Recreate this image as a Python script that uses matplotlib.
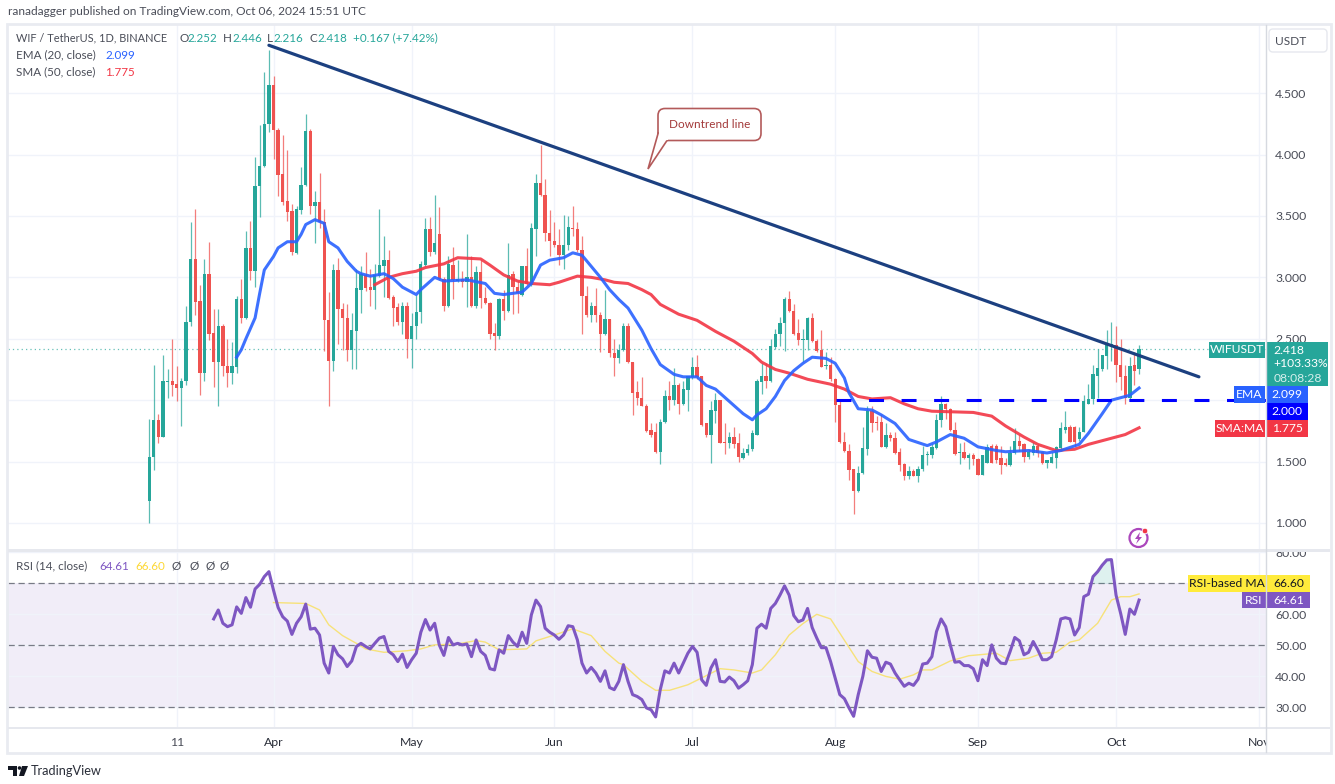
"""WIF / USDT daily chart with EMA, SMA, trend line and RSI pane"""
from typing import List
import matplotlib
matplotlib.use('Agg')
import matplotlib.pyplot as plt
from matplotlib.patches import Circle, FancyBboxPatch, Polygon, Rectangle


# Days are counted from 1 April 2024
FIRST_DAY = -27

# open, high, low, close of every daily candle
CANDLES = [
    (1.18, 1.85, 1.00, 1.54), (1.54, 2.29, 1.43, 1.84), (1.84, 1.89, 1.65, 1.70), (1.70, 2.37, 1.70, 2.16),
    (2.15, 2.25, 2.02, 2.16), (2.16, 2.50, 2.03, 2.12), (2.13, 2.28, 1.99, 2.10), (2.10, 2.18, 1.79, 2.16),
    (2.16, 2.77, 2.12, 2.64), (2.64, 3.45, 2.60, 3.15), (3.15, 3.56, 2.69, 2.80), (2.81, 2.94, 2.04, 2.22),
    (2.22, 3.15, 2.16, 3.03), (3.03, 3.29, 2.49, 2.54), (2.55, 2.74, 2.11, 2.31), (2.31, 2.74, 1.95, 2.60),
    (2.60, 2.62, 2.20, 2.28), (2.28, 2.50, 2.11, 2.22), (2.22, 2.47, 2.13, 2.28), (2.27, 2.85, 2.22, 2.82),
    (2.82, 2.99, 2.63, 2.67), (2.67, 3.38, 2.66, 3.24), (3.24, 3.46, 2.98, 3.05), (3.05, 3.98, 2.92, 3.74),
    (3.74, 4.24, 3.49, 3.91), (3.91, 4.67, 3.90, 4.25), (4.25, 4.85, 4.18, 4.57), (4.57, 4.64, 3.96, 4.20),
    (4.20, 4.22, 3.66, 3.83), (3.84, 4.16, 3.59, 3.61), (3.62, 4.04, 3.46, 3.53), (3.54, 3.60, 3.18, 3.21),
    (3.20, 3.58, 3.19, 3.56), (3.55, 3.90, 3.52, 3.75), (3.75, 4.33, 3.74, 4.19), (4.19, 4.21, 3.52, 3.58),
    (3.58, 3.70, 3.28, 3.61), (3.61, 3.85, 3.40, 3.45), (3.45, 3.56, 2.40, 2.65), (2.65, 2.88, 1.95, 2.32),
    (2.32, 3.11, 2.24, 3.06), (3.06, 3.16, 2.46, 2.74), (2.74, 2.79, 2.41, 2.67), (2.67, 2.78, 2.32, 2.41),
    (2.41, 2.71, 2.25, 2.57), (2.56, 3.07, 2.25, 2.91), (2.90, 3.09, 2.71, 3.03), (3.02, 3.21, 2.89, 2.91),
    (2.92, 3.07, 2.77, 2.90), (2.90, 3.11, 2.74, 3.02), (3.01, 3.56, 3.00, 3.10), (3.09, 3.34, 2.84, 3.14),
    (3.14, 3.22, 2.82, 2.83), (2.84, 2.86, 2.60, 2.75), (2.76, 2.79, 2.61, 2.64), (2.64, 2.80, 2.54, 2.77),
    (2.77, 2.80, 2.34, 2.50), (2.50, 2.71, 2.26, 2.60), (2.60, 2.86, 2.50, 2.72), (2.72, 3.13, 2.63, 3.11),
    (3.10, 3.48, 3.09, 3.39), (3.39, 3.49, 3.17, 3.21), (3.21, 3.67, 3.19, 3.28), (3.35, 3.57, 2.98, 2.99),
    (2.99, 3.00, 2.73, 2.77), (2.77, 3.17, 2.76, 3.11), (3.10, 3.25, 2.82, 2.98), (2.97, 3.14, 2.96, 2.99),
    (2.99, 3.05, 2.92, 2.96), (2.96, 3.35, 2.76, 3.00), (3.00, 3.17, 2.76, 2.77), (2.77, 3.09, 2.75, 3.04),
    (3.04, 3.14, 2.75, 2.83), (2.83, 2.92, 2.78, 2.79), (2.79, 2.80, 2.50, 2.54), (2.55, 2.63, 2.41, 2.52),
    (2.52, 2.83, 2.50, 2.82), (2.82, 2.90, 2.65, 2.73), (2.73, 3.28, 2.72, 3.02), (3.03, 3.05, 2.70, 2.92),
    (2.92, 2.97, 2.71, 2.87), (2.86, 3.09, 2.85, 3.09), (3.09, 3.24, 2.94, 2.95), (2.94, 3.44, 2.93, 3.40),
    (3.39, 3.84, 3.17, 3.77), (3.77, 4.08, 3.66, 3.67), (3.67, 3.80, 3.30, 3.36), (3.36, 3.55, 3.17, 3.30),
    (3.30, 3.45, 3.25, 3.26), (3.26, 3.39, 3.10, 3.18), (3.18, 3.51, 3.07, 3.26), (3.26, 3.50, 3.22, 3.41),
    (3.40, 3.58, 3.34, 3.39), (3.39, 3.45, 3.21, 3.22), (3.22, 3.34, 2.54, 2.85), (2.85, 2.93, 2.68, 2.69),
    (2.69, 2.80, 2.64, 2.77), (2.77, 2.91, 2.64, 2.69), (2.69, 2.72, 2.39, 2.54), (2.54, 2.90, 2.53, 2.66),
    (2.66, 2.66, 2.35, 2.38), (2.38, 2.50, 2.20, 2.34), (2.34, 2.46, 2.30, 2.41), (2.41, 2.63, 2.40, 2.60),
    (2.60, 2.63, 2.30, 2.31), (2.31, 2.31, 1.88, 2.06), (2.07, 2.16, 1.96, 2.02), (2.02, 2.19, 1.95, 1.95),
    (1.95, 1.97, 1.74, 1.75), (1.76, 1.81, 1.70, 1.72), (1.74, 1.81, 1.57, 1.58), (1.58, 1.85, 1.48, 1.82),
    (1.82, 2.08, 1.81, 2.03), (2.03, 2.16, 1.92, 2.00), (2.00, 2.26, 1.96, 2.12), (2.12, 2.14, 1.89, 1.97),
    (1.97, 2.16, 1.96, 2.09), (2.08, 2.20, 1.91, 2.20), (2.19, 2.35, 2.17, 2.27), (2.27, 2.37, 2.17, 2.19),
    (2.20, 2.20, 1.79, 1.80), (1.81, 1.81, 1.70, 1.72), (1.72, 1.99, 1.49, 1.92), (1.91, 2.06, 1.81, 2.00),
    (2.00, 2.00, 1.65, 1.65), (1.66, 1.81, 1.56, 1.65), (1.65, 1.74, 1.61, 1.70), (1.70, 1.78, 1.61, 1.64),
    (1.65, 1.73, 1.50, 1.54), (1.53, 1.61, 1.52, 1.57), (1.57, 1.64, 1.55, 1.60), (1.60, 1.76, 1.59, 1.73),
    (1.72, 2.17, 1.72, 2.16), (2.15, 2.30, 2.05, 2.20), (2.20, 2.30, 2.10, 2.16), (2.16, 2.50, 2.15, 2.44),
    (2.43, 2.58, 2.42, 2.54), (2.54, 2.68, 2.44, 2.63), (2.63, 2.84, 2.40, 2.82), (2.82, 2.89, 2.72, 2.73),
    (2.73, 2.78, 2.53, 2.54), (2.55, 2.66, 2.45, 2.49), (2.49, 2.58, 2.31, 2.50), (2.49, 2.68, 2.41, 2.67),
    (2.67, 2.71, 2.47, 2.48), (2.48, 2.50, 2.39, 2.40), (2.41, 2.57, 2.27, 2.27), (2.28, 2.39, 2.25, 2.29),
    (2.29, 2.35, 2.16, 2.17), (2.17, 2.18, 1.82, 1.96), (1.96, 1.99, 1.65, 1.66), (1.66, 1.74, 1.58, 1.59),
    (1.59, 1.64, 1.35, 1.43), (1.44, 1.44, 1.07, 1.26), (1.26, 1.46, 1.25, 1.41), (1.41, 1.78, 1.40, 1.61),
    (1.60, 1.95, 1.55, 1.91), (1.91, 1.95, 1.74, 1.81), (1.82, 1.87, 1.76, 1.81), (1.82, 1.89, 1.62, 1.62),
    (1.62, 1.81, 1.61, 1.72), (1.72, 1.74, 1.67, 1.69), (1.69, 1.74, 1.56, 1.57), (1.58, 1.61, 1.42, 1.47),
    (1.48, 1.49, 1.35, 1.38), (1.38, 1.46, 1.36, 1.42), (1.42, 1.44, 1.38, 1.38), (1.38, 1.46, 1.33, 1.44),
    (1.44, 1.63, 1.42, 1.55), (1.55, 1.59, 1.47, 1.56), (1.55, 1.64, 1.53, 1.62), (1.61, 1.89, 1.60, 1.84),
    (1.84, 2.03, 1.78, 1.97), (1.97, 1.98, 1.85, 1.93), (1.93, 1.94, 1.75, 1.76), (1.76, 1.82, 1.55, 1.56),
    (1.57, 1.65, 1.48, 1.58), (1.58, 1.66, 1.52, 1.53), (1.53, 1.57, 1.44, 1.55), (1.55, 1.57, 1.47, 1.52),
    (1.52, 1.53, 1.39, 1.39), (1.39, 1.55, 1.39, 1.55), (1.49, 1.64, 1.49, 1.62), (1.63, 1.64, 1.49, 1.49),
    (1.63, 1.64, 1.49, 1.51), (1.53, 1.63, 1.40, 1.47), (1.49, 1.53, 1.46, 1.47), (1.47, 1.63, 1.46, 1.57),
    (1.57, 1.77, 1.56, 1.67), (1.67, 1.72, 1.59, 1.63), (1.64, 1.65, 1.50, 1.54), (1.54, 1.60, 1.52, 1.58),
    (1.57, 1.66, 1.55, 1.63), (1.63, 1.64, 1.54, 1.57), (1.58, 1.59, 1.48, 1.49), (1.49, 1.51, 1.45, 1.51),
    (1.49, 1.58, 1.49, 1.54), (1.53, 1.63, 1.45, 1.62), (1.61, 1.82, 1.59, 1.77), (1.76, 1.91, 1.73, 1.78),
    (1.78, 1.80, 1.66, 1.66), (1.78, 1.79, 1.62, 1.66), (1.68, 1.78, 1.67, 1.74), (1.74, 2.04, 1.74, 1.99),
    (1.97, 2.13, 1.97, 2.01), (2.01, 2.29, 1.97, 2.21), (2.20, 2.42, 2.02, 2.26), (2.25, 2.37, 2.24, 2.37),
    (2.36, 2.57, 2.25, 2.46), (2.45, 2.64, 2.32, 2.46), (2.45, 2.60, 2.15, 2.29), (2.29, 2.50, 2.08, 2.19),
    (2.20, 2.29, 1.97, 2.02), (2.02, 2.35, 2.01, 2.28), (2.29, 2.39, 2.12, 2.24), (2.252, 2.446, 2.216, 2.418),
]

# EMA (20) read every few days
EMA_DAYS = [-8, -7, -6, -4, -3, -2, 0, 1, 3, 5, 6, 7, 9, 11, 12, 14, 16, 18, 19, 21, 24, 26, 28, 31,
            32, 35, 37, 42, 46, 48, 50, 54, 56, 58, 60, 63, 65, 67, 71, 73, 75, 77, 80, 82, 84, 87,
            89, 92, 94, 96, 99, 102, 104, 105, 107, 109, 111, 113, 115, 117, 120, 122, 124, 125, 127,
            130, 132, 135, 138, 142, 144, 147, 150, 153, 157, 159, 164, 168, 171, 175, 177, 180, 182,
            184, 186, 188]
EMA_VALUES = [2.35, 2.41, 2.50, 2.67, 2.87, 3.06, 3.17, 3.24, 3.29, 3.29, 3.35, 3.43, 3.47, 3.44,
              3.29, 3.24, 3.13, 3.05, 3.03, 3.01, 3.03, 2.99, 2.92, 2.86,
              2.90, 3.00, 2.97, 2.98, 2.95, 2.87, 2.86, 2.88, 2.95, 3.10, 3.14, 3.16, 3.20, 3.18,
              3.00, 2.90, 2.82, 2.75, 2.57, 2.42, 2.29, 2.21,
              2.19, 2.19, 2.12, 2.09, 1.99, 1.89, 1.84, 1.88, 1.93, 2.03, 2.16, 2.24, 2.30, 2.35,
              2.34, 2.30, 2.18, 2.06, 1.93, 1.92, 1.88, 1.81, 1.68, 1.63, 1.66, 1.72, 1.69, 1.62,
              1.59, 1.58, 1.59, 1.57, 1.59, 1.64, 1.73, 1.89, 2.00, 2.02, 2.04, 2.099]

# SMA (50) read every few days
SMA_DAYS = [22, 25, 28, 31, 33, 37, 40, 45, 47, 50, 53, 56, 60, 62, 66, 69, 72, 74, 77, 80, 82, 84, 88,
            92, 96, 100, 104, 106, 109, 112, 116, 121, 124, 127, 130, 134, 137, 140, 143, 152, 156,
            159, 163, 166, 170, 174, 177, 181, 185, 188]
SMA_VALUES = [2.94, 3.00, 3.03, 3.05, 3.08, 3.11, 3.16, 3.15, 3.10, 3.02, 2.97, 2.95, 2.94, 2.96, 3.01,
              3.00, 2.98, 2.96, 2.95, 2.90, 2.86, 2.78, 2.70,
              2.65, 2.56, 2.48, 2.38, 2.31, 2.25, 2.22, 2.17, 2.13, 2.09, 2.03, 2.01, 2.02, 1.97,
              1.93, 1.91, 1.90, 1.87, 1.79, 1.70, 1.64, 1.59, 1.60, 1.64, 1.68, 1.72, 1.775]

# RSI (14) of every day from day -13
RSI_FIRST_DAY = -13
RSI_VALUES = [
    58.5, 61.4, 57.1, 56.0, 56.6, 62.4, 60.3, 65.4, 62.3, 68.2, 69.7, 72.2, 73.8, 67.8, 62.2, 59.2,
    57.8, 53.5, 57.1, 59.2, 63.3, 55.2, 55.5, 53.3, 44.2, 41.0, 49.6, 46.9, 45.6, 43.1, 44.9, 49.6,
    50.6, 49.6, 48.8, 50.6, 52.3, 52.8, 48.0, 46.9, 44.7, 47.1, 42.8, 45.3, 47.4, 54.2, 58.3, 54.9,
    57.1, 50.1, 46.7, 52.5, 50.1, 50.6, 50.1, 50.4, 46.3, 51.7, 48.0, 46.7, 42.4, 42.0, 48.5, 47.4,
    53.1, 51.0, 49.6, 54.2, 50.6, 59.8, 64.6, 62.5, 55.5, 54.2, 53.3, 51.9, 53.3, 56.3, 56.0, 51.7,
    44.2, 41.0, 42.8, 41.0, 38.3, 41.7, 36.3, 35.6, 38.3, 43.7, 38.3, 34.0, 33.4, 32.4, 29.7, 29.1,
    26.8, 35.6, 41.7, 41.0, 44.2, 41.0, 44.2, 47.4, 49.6, 47.7, 38.8, 37.0, 42.6, 45.3, 38.3, 38.1,
    39.7, 38.5, 36.1, 37.2, 38.5, 43.7, 55.5, 56.8, 55.5, 61.9, 63.5, 66.2, 69.2, 66.2, 59.6, 57.6,
    58.2, 61.9, 55.7, 52.3, 49.2, 49.2, 44.7, 39.4, 34.0, 32.7, 29.7, 27.0, 34.0, 39.9, 48.2, 46.1,
    45.8, 41.5, 44.5, 43.9, 41.0, 38.8, 36.7, 37.7, 37.0, 39.0, 43.9, 44.2, 46.3, 54.4, 58.5, 56.0,
    50.1, 44.5, 44.7, 43.4, 43.4, 42.4, 38.5, 45.3, 43.4, 50.1, 45.8, 44.2, 44.0, 48.0, 52.5, 51.4,
    46.9, 47.7, 51.2, 48.5, 45.3, 45.3, 46.3, 51.7, 58.5, 58.9, 58.5, 53.3, 55.7, 65.7, 66.5, 72.2,
    73.8, 75.9, 77.6, 77.7, 66.2, 60.3, 53.5, 61.7, 60.0, 64.61,
]

# RSI-based MA read every few days
RSI_MA_DAYS = [0, 7, 10, 12, 15, 18, 20, 24, 29, 32, 35, 40, 44, 46, 49, 55, 57, 61, 65, 69, 72, 75, 76,
               80, 83, 86, 90, 93, 97, 100, 104, 106, 109, 112, 115, 118, 121, 123, 127, 130, 133, 136,
               139, 141, 143, 147, 151, 157, 160, 164, 167, 170, 173, 175, 179, 182, 184, 186, 188]
RSI_MA_VALUES = [63.8, 63.5, 61.4, 56.6, 53.1, 50.6, 48.8, 47.7, 48.2, 48.8, 50.1, 50.4, 51.5, 51.0, 48.5,
                 48.8, 51.4, 53.3, 55.3, 53.1, 48.0, 44.2, 43.7, 38.3, 35.4, 35.4, 37.2, 39.4, 42.4,
                 42.0, 41.0, 42.0, 46.9, 53.3, 57.0, 60.0, 58.5, 53.9, 44.7, 41.5, 39.9, 39.0, 40.4,
                 42.0, 42.0, 44.9, 46.6, 47.4, 45.0, 45.8, 47.4, 47.7, 51.0, 51.7, 57.1, 64.6, 65.7,
                 65.7, 66.60]

# Month ticks of the time axis
TIME_TICKS = [-21, 0, 30, 61, 91, 122, 153, 183, 214]
TIME_LABELS = ['11', 'Apr', 'May', 'Jun', 'Jul', 'Aug', 'Sep', 'Oct', 'Nov']

GREEN = '#26a69a'
RED = '#ef5350'
BLUE = '#2962ff'
PINK = '#f23645'
PURPLE = '#7e57c2'
GRID = '#f0f3fa'
TEXT = '#4a4d58'
WIDTH = 1335
HEIGHT = 784


class ChartRenderer:
    """Draw the chart panes on one figure"""
    
    def __init__(self):
        # Text looks like the site's condensed sans font
        plt.rcParams['font.family'] = ['Lato', 'DejaVu Sans']
        plt.rcParams['font.size'] = 8.6
        plt.rcParams['axes.axisbelow'] = True
    
    def make_axes(self, left: int, top: int, right: int, bottom: int):
        """Create axes from pixel edges of the figure"""
        return plt.axes([left / WIDTH, 1 - bottom / HEIGHT, (right - left) / WIDTH, (bottom - top) / HEIGHT])
    
    def value_tag(self, left: int, right: int, value: float, height: float, color: str, label: str, text_color: str = 'white'):
        """Draw a coloured tag on the price scale at one value"""
        ax = plt.gca()
        x0 = (left - 8) / 1258
        x1 = (right - 8) / 1258
        ax.add_patch(Rectangle((x0, value - height / 2), x1 - x0, height, transform=ax.get_yaxis_transform(),
                               facecolor=color, edgecolor='none', clip_on=False, zorder=6))
        plt.text((x0 + x1) / 2, value, label, transform=ax.get_yaxis_transform(), color=text_color,
                 ha='center', va='center', clip_on=False, zorder=7, fontsize=8.7)
    
    def draw_price_pane(self):
        """Draw candles, averages and trend lines"""
        self.make_axes(8, 25, 1266, 549)
        days = list(range(FIRST_DAY, FIRST_DAY + len(CANDLES)))
        colors = [GREEN if c >= o else RED for o, h, l, c in CANDLES]
        
        # Wicks first, bodies on top
        plt.vlines(days, [row[2] for row in CANDLES], [row[1] for row in CANDLES], colors=colors, linewidth=0.9, alpha=0.75, zorder=2)
        plt.bar(days, [abs(row[3] - row[0]) for row in CANDLES], bottom=[min(row[0], row[3]) for row in CANDLES],
                width=0.72, color=colors, zorder=3)
        
        # Moving averages
        plt.plot(SMA_DAYS, SMA_VALUES, color=PINK, linewidth=2.2, alpha=0.9, zorder=4, solid_joinstyle='round')
        plt.plot(EMA_DAYS, EMA_VALUES, color=BLUE, linewidth=2.2, alpha=0.9, zorder=4, solid_joinstyle='round')
        
        # Last price, support and downtrend line
        plt.axhline(2.418, color=GREEN, linewidth=0.9, linestyle=(0, (1, 2.5)), alpha=0.7, zorder=1)
        plt.plot([122.2, 215.57], [2.0, 2.0], color='#0000ff', linewidth=2.2, linestyle=(0, (4.9, 5.75)), zorder=4)
        plt.plot([-1, 201], [4.89, 2.19], color='#1c4080', linewidth=2.3, zorder=5, solid_capstyle='round')
        
        plt.xlim(-57.67, 215.57)
        plt.ylim(0.788, 5.055)
        plt.xticks(TIME_TICKS, [])
        plt.yticks([1.0, 1.5, 2.0, 2.5, 3.0, 3.5, 4.0, 4.5], ['1.000', '1.500', '', '2.500', '3.000', '3.500', '4.000', '4.500'], color=TEXT, fontsize=8.8)
        plt.tick_params(axis='both', length=0)
        plt.tick_params(axis='y', left=False, labelleft=False, labelright=True, pad=6.5)
        plt.grid(color=GRID, linewidth=1)
        for spine in plt.gca().spines.values():
            spine.set_visible(False)
        
        # Tags on the price scale
        self.value_tag(1209, 1265, 2.409, 0.13, GREEN, 'WIFUSDT')
        self.value_tag(1266, 1328, 2.295, 0.358, GREEN, '')
        plt.text(1.0058, 2.407, '2.418', transform=plt.gca().get_yaxis_transform(), color='white', va='center', zorder=7, fontsize=8.7)
        plt.text(1.0058, 2.295, '+103.33%', transform=plt.gca().get_yaxis_transform(), color='white', va='center', zorder=7, fontsize=8.7)
        plt.text(1.0058, 2.18, '08:08:28', transform=plt.gca().get_yaxis_transform(), color='#d5efec', va='center', zorder=7, fontsize=8.7)
        self.value_tag(1234, 1265, 2.046, 0.138, BLUE, 'EMA')
        self.value_tag(1266, 1308, 2.046, 0.138, BLUE, '2.099')
        self.value_tag(1266, 1308, 1.908, 0.138, '#0000ff', '2.000')
        self.value_tag(1215, 1265, 1.77, 0.138, PINK, 'SMA:MA')
        self.value_tag(1266, 1308, 1.77, 0.138, PINK, '1.775')
    
    def draw_rsi_pane(self):
        """Draw RSI with its band and average"""
        self.make_axes(8, 552, 1266, 727)
        days = list(range(RSI_FIRST_DAY, RSI_FIRST_DAY + len(RSI_VALUES)))
        
        # Band between oversold and overbought
        plt.axhspan(30, 70, color=PURPLE, alpha=0.1, linewidth=0, zorder=0)
        for level in [30, 50, 70]:
            plt.axhline(level, color='#787b86', linewidth=0.9, linestyle=(0, (5, 3)), zorder=1)
        
        # Soft fill where RSI is over 70
        plt.fill_between(days, 70, RSI_VALUES, where=[v >= 70 and d > 150 for d, v in zip(days, RSI_VALUES)], color=GREEN, alpha=0.15, linewidth=0, zorder=1)
        
        plt.plot(RSI_MA_DAYS, RSI_MA_VALUES, color='#f7e27a', linewidth=1.0, zorder=2)
        plt.plot(days, RSI_VALUES, color=PURPLE, linewidth=2.2, zorder=3)
        
        plt.xlim(-57.67, 215.57)
        plt.ylim(23.53, 80.16)
        plt.xticks(TIME_TICKS, TIME_LABELS, color='#2a2e39', fontsize=8.8)
        plt.gca().get_xticklabels()[0].set_color(TEXT)
        plt.yticks([30, 40, 50, 60, 80], ['30.00', '40.00', '50.00', '60.00', '80.00'], color=TEXT, fontsize=8.8)
        plt.tick_params(axis='both', length=0)
        plt.tick_params(axis='x', pad=7)
        plt.tick_params(axis='y', left=False, labelleft=False, labelright=True, pad=6.5)
        plt.grid(color=GRID, linewidth=1)
        for spine in plt.gca().spines.values():
            spine.set_visible(False)
        
        # Tags on the RSI scale
        self.value_tag(1188, 1266, 70, 5.5, '#ffeb3b', 'RSI-based MA', '#131722')
        self.value_tag(1267, 1310, 70, 5.5, '#ffeb3b', '66.60', '#131722')
        self.value_tag(1242, 1266, 64.61, 5.2, PURPLE, 'RSI')
        self.value_tag(1267, 1310, 64.61, 5.2, PURPLE, '64.61')
    
    def write_row(self, y: int, pieces: List[tuple], size: float = 8.4):
        """Write pieces of a legend row at pixel positions"""
        for x, label, color in pieces:
            plt.text(x, y, label, color=color, va='center', ha='left', fontsize=size, zorder=9)
    
    def draw_overlay(self):
        """Draw frame, legends, callout and logos in pixel coordinates"""
        ax = self.make_axes(0, 0, WIDTH, HEIGHT)
        ax.patch.set_alpha(0)
        plt.xlim(0, WIDTH)
        plt.ylim(HEIGHT, 0)
        plt.axis('off')
        
        # Frame and pane separators
        ax.add_patch(Rectangle((7, 24), 1324, 729, fill=False, edgecolor='#e9ebf1', linewidth=2))
        ax.add_patch(Rectangle((8, 549), 1322, 3, facecolor='#e6e8ee', edgecolor='none'))
        ax.add_patch(Rectangle((8, 727), 1322, 1.5, facecolor='#e6e8ee', edgecolor='none'))
        ax.add_patch(Rectangle((1267, 729), 61, 23, facecolor='white', edgecolor='none'))
        plt.plot([1266, 1266], [25, 752], color='#d6d9e0', linewidth=1)
        
        # Header and legends
        plt.text(8, 11, 'ranadagger published on TradingView.com, Oct 06, 2024 15:51 UTC', color=TEXT, va='center', fontsize=8.55)
        self.write_row(38, [(16, 'WIF / TetherUS, 1D, BINANCE', TEXT)], 7.95)
        self.write_row(38, [(179, 'O', TEXT), (187, '2.252', GREEN), (223, 'H', TEXT), (232, '2.446', GREEN), (267, 'L', TEXT),
                            (273, '2.216', GREEN), (310, 'C', TEXT), (317, '2.418', GREEN), (353, '+0.167 (+7.42%)', GREEN)])
        self.write_row(55, [(16, 'EMA (20, close)', TEXT), (105, '2.099', BLUE)])
        self.write_row(72, [(16, 'SMA (50, close)', TEXT), (105, '1.775', PINK)])
        self.write_row(566, [(16, 'RSI (14, close)', TEXT), (99, '64.61', PURPLE), (135, '66.60', '#fdd835'),
                             (172, '\u00d8', TEXT), (190, '\u00d8', TEXT), (205, '\u00d8', TEXT), (220, '\u00d8', TEXT)])
        
        # USDT button
        ax.add_patch(FancyBboxPatch((1269, 29), 58, 23, boxstyle='round,pad=0,rounding_size=4', facecolor='white', edgecolor='#e6e8ee', linewidth=1))
        plt.text(1291, 41, 'USDT', color=TEXT, ha='center', va='center', fontsize=8.6)
        
        # Callout of the downtrend line
        ax.add_patch(FancyBboxPatch((658, 108.5), 103, 32, boxstyle='round,pad=0,rounding_size=7', facecolor='white', edgecolor='#b35a5a', linewidth=1.2))
        ax.add_patch(Polygon([(658.5, 132), (648, 169), (667, 140.5)], closed=False, facecolor='white', edgecolor='#b35a5a', linewidth=1.2))
        ax.add_patch(Rectangle((659.2, 129), 9, 10.8, facecolor='white', edgecolor='none'))
        plt.text(709.5, 124, 'Downtrend line', color='#a33a3a', ha='center', va='center', fontsize=8.5)
        
        # Flash icon
        ax.add_patch(Circle((1138.5, 538), 9, fill=False, edgecolor='#ab47bc', linewidth=1.6))
        ax.add_patch(Polygon([(1140, 532), (1135, 539), (1138, 539), (1136, 544), (1142, 537), (1139, 537)], facecolor='#ab47bc', edgecolor='none'))
        ax.add_patch(Circle((1145, 531), 2.8, facecolor='#f23645', edgecolor='white', linewidth=0.6))
        
        # Footer logo
        ax.add_patch(Polygon([(8, 766), (17, 766), (17, 776), (13, 776), (13, 770), (8, 770)], facecolor='#131722', edgecolor='none'))
        ax.add_patch(Circle((19.5, 768), 1.8, facecolor='#131722', edgecolor='none'))
        ax.add_patch(Polygon([(22, 766), (28, 766), (24, 776), (19, 776)], facecolor='#131722', edgecolor='none'))
        plt.text(31, 771, 'TradingView', color='#2a2e39', va='center', fontsize=9.2)
    
    def render(self, output_path: str) -> str:
        """Render the whole chart to a file"""
        plt.figure(figsize=(WIDTH / 100, HEIGHT / 100))
        self.draw_price_pane()
        self.draw_rsi_pane()
        self.draw_overlay()
        plt.savefig(output_path, dpi=100)
        plt.close()
        
        return output_path


ChartRenderer().render('out.png')
